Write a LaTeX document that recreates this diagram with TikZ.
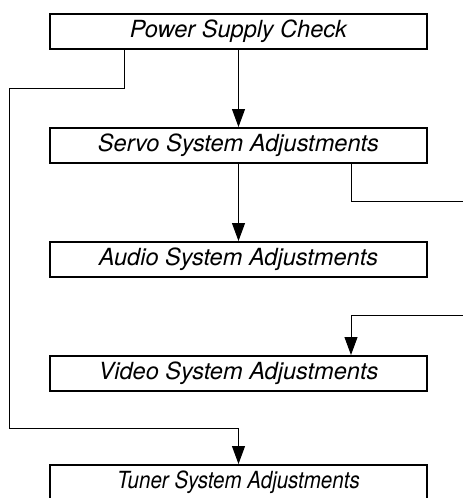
\documentclass[tikz,border=0pt]{standalone}
\usepackage{fontspec}
\setsansfont{TeX Gyre Heros}
\usetikzlibrary{arrows.meta, positioning}

\begin{document}
\begin{tikzpicture}[x=0.5pt, y=-0.5pt,
    stage/.style={rectangle, draw, line width=1pt, minimum width=188.5pt,
                  minimum height=17.5pt, inner sep=0pt,
                  font=\sffamily\itshape\fontsize{11.8}{13}\selectfont},
    flow/.style={-{Triangle[length=9pt, width=6.5pt]}, line width=0.5pt},
    link/.style={line width=0.5pt},
  ]
    \useasboundingbox (0,0) rectangle (462,498);

    \node[stage] at (238.5,31.5)             (power) {Power Supply Check};
    \node[stage, below=38.5pt of power]      (servo) {Servo System Adjustments};
    \node[stage, below=38.5pt of servo]      (audio) {Audio System Adjustments};
    \node[stage, below=38.5pt of audio]      (video) {Video System Adjustments};
    \node[stage, below=36pt of video]        (tuner) {\scalebox{0.87}[1]{Tuner System Adjustments}};

    % free ends at the right edge
    \coordinate (servo out) at (470,201);
    \coordinate (video in)  at (470,315);

    \draw[flow] (power) -- (servo);
    \draw[flow] (servo) -- (audio);
    \draw[flow] ([xshift=-57pt]power.south) -- ++(0,38) -| (9,428) -| (tuner.north);
    \draw[link] ([xshift=56.25pt]servo.south) |- (servo out);
    \draw[flow] (video in) -| ([xshift=56.25pt]video.north);
  \end{tikzpicture}
\end{document}
